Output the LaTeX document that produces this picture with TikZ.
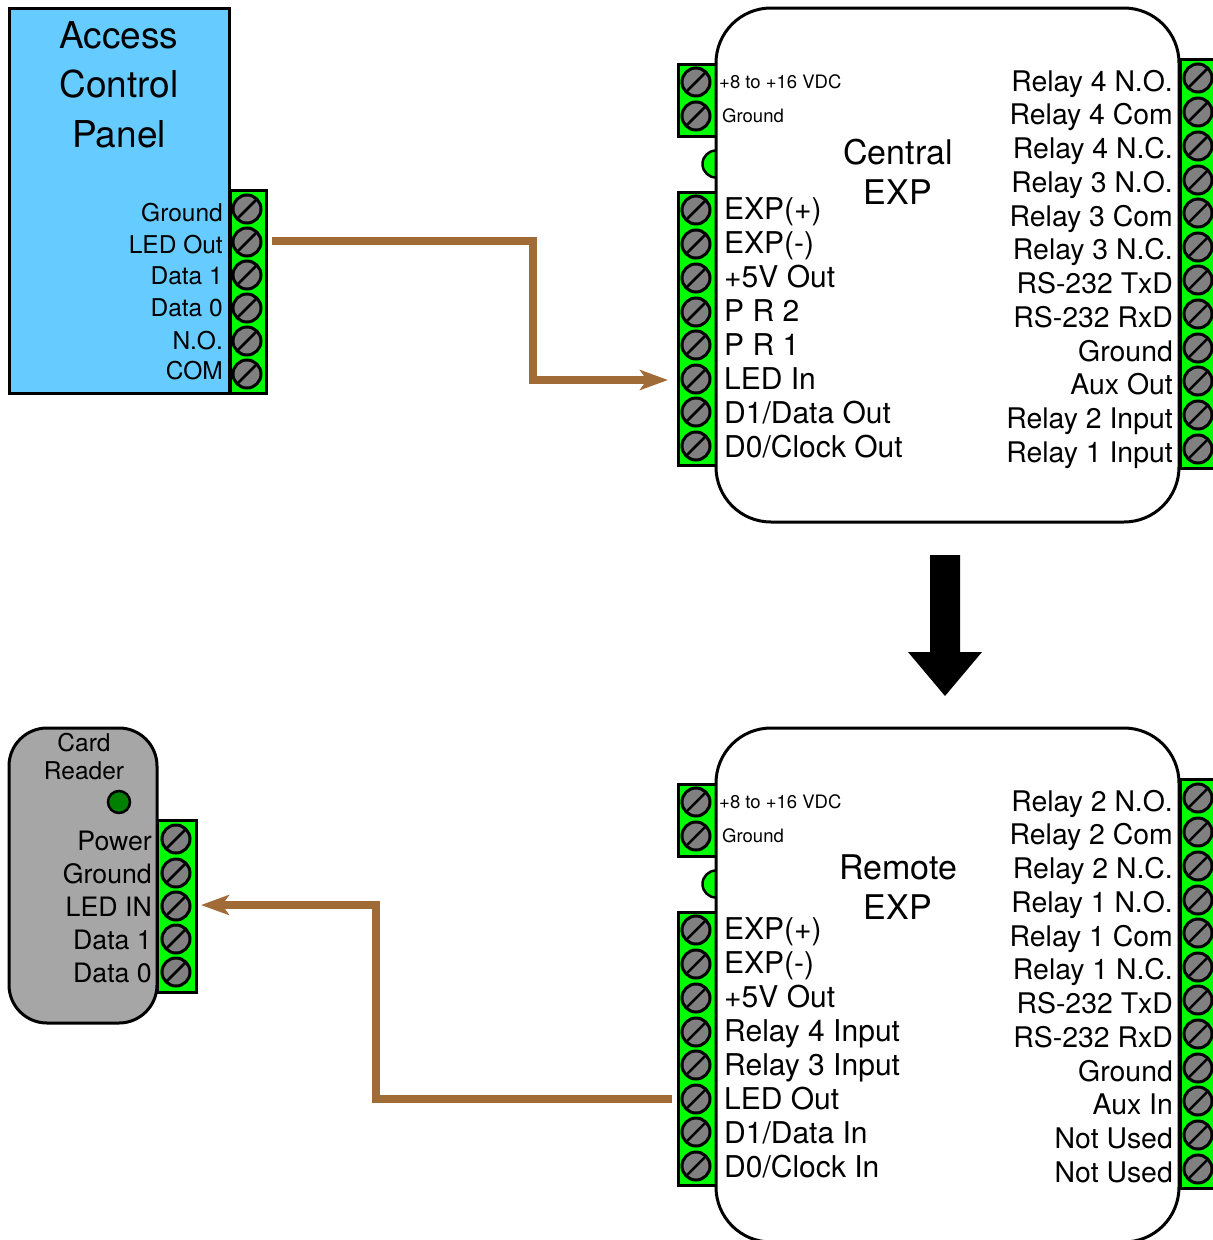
\documentclass[tikz,border=0pt]{standalone}
\usepackage{fontspec}
\setmainfont{TeX Gyre Heros}
\usetikzlibrary{
  arrows.meta,
  chains,
  scopes
}
\definecolor{panelblue}{RGB}{102,204,255}
\definecolor{stripgreen}{RGB}{0,255,0}
\definecolor{readergray}{RGB}{166,166,166}
\definecolor{screwgray}{RGB}{128,128,128}
\definecolor{ledgreen}{RGB}{0,128,0}
\definecolor{wirebrown}{RGB}{160,107,55}

\begin{document}
\begin{tikzpicture}[
      x=1pt,y=-1pt,
      module/.style={
         rectangle,
         outer sep=0pt,
         line width=3pt,
         draw=black,
         fill=white,
         rounded corners=55pt,
      },
      panel/.style={
         rectangle,
         outer sep=0pt,
         line width=3pt,
         draw=black,
         fill=panelblue,
      },
      reader/.style={
         rectangle,
         outer sep=0pt,
         line width=3pt,
         draw=black,
         fill=readergray,
         rounded corners=38pt,
      },
      strip/.style={
         rectangle,
         outer sep=0pt,
         line width=3pt,
         draw=black,
         fill=stripgreen,
      },
      screw/.style={
         circle,
         inner sep=0pt,
         minimum size=28pt,
         line width=3pt,
         draw=black,
         fill=screwgray,
         path picture={\draw[line width=2.5pt]
            (path picture bounding box.south west) -- (path picture bounding box.north east);},
      },
      bump/.style={circle,inner sep=0pt,minimum size=27pt,line width=2.5pt,draw=black,fill=stripgreen},
      led/.style={circle,inner sep=0pt,minimum size=22pt,line width=2.5pt,draw=black,fill=ledgreen},
      lterm/.style={anchor=mid west,yshift=-8pt,inner sep=0pt,font=\fontsize{30}{30}\selectfont},
      rterm/.style={anchor=mid east,yshift=-8pt,inner sep=0pt,font=\fontsize{28.4}{28.4}\selectfont},
      power/.style={anchor=mid west,yshift=-4pt,inner sep=0pt,font=\fontsize{18.5}{18.5}\selectfont},
      pterm/.style={anchor=mid east,yshift=-6pt,inner sep=0pt,font=\fontsize{24.5}{24.5}\selectfont},
      kterm/.style={anchor=mid east,yshift=-7pt,inner sep=0pt,font=\fontsize{26.7}{26.7}\selectfont},
      ktitle/.style={inner sep=0pt,font=\fontsize{24.5}{24.5}\selectfont},
      mtitle/.style={inner sep=0pt,font=\fontsize{34}{34}\selectfont},
      ptitle/.style={inner sep=0pt,font=\fontsize{37}{37}\selectfont},
      point/.style={coordinate},
      wire/.style={line width=8pt,draw=wirebrown,line cap=rect},
      >={Stealth[length=28pt,width=20pt,inset=7pt]},
      tip/.style={->,line cap=butt},every join/.style={wire},
      hv path/.style={to path={-| (\tikztotarget)}},
    ]
    \useasboundingbox (0,0) rectangle (1213,1240);

    % access control panel
    \node (panel) [panel, minimum width=220pt, minimum height=385pt] at (119.5,200.5) {};
    \node (pstrip) [strip, minimum width=36pt, minimum height=203pt] at (248,291.5) {};
    \node (ptitle1) [ptitle] at (119,35.5) {Access};
    \node (ptitle2) [ptitle] at (119,84.5) {Control};
    \node (ptitle3) [ptitle] at (119,134) {Panel};
    \node (p1) [screw] at (247,209) {};
    \node (p2) [screw] at (247,242) {};
    \node (p3) [screw] at (247,275) {};
    \node (p4) [screw] at (247,308) {};
    \node (p5) [screw] at (247,341) {};
    \node (p6) [screw] at (247,374) {};
    \node (tp1) [pterm] at (223,213) {Ground};
    \node (tp2) [pterm] at (223,245) {LED Out};
    \node (tp3) [pterm] at (223,276) {Data 1};
    \node (tp4) [pterm] at (223,308) {Data 0};
    \node (tp5) [pterm] at (223,341) {N.O.};
    \node (tp6) [pterm] at (223,371) {COM};

    % central module
    \node (cbump) [bump] at (716,164) {};
    \node (cpstrip) [strip, minimum width=38pt, minimum height=72pt] at (697,100) {};
    \node (clstrip) [strip, minimum width=38pt, minimum height=273pt] at (697,328.5) {};
    \node (crstrip) [strip, minimum width=36pt, minimum height=409pt] at (1198,263.5) {};
    \node (central) [module, minimum width=463pt, minimum height=514pt] at (947.5,265) {};
    \node (ctitle1) [mtitle] at (898,152.5) {Central};
    \node (ctitle2) [mtitle] at (898,192) {EXP};
    \node (cp1) [screw] at (696,82) {};
    \node (cp2) [screw] at (696,116) {};
    \node (tcp1) [power] at (719,82) {+8 to +16 VDC};
    \node (tcp2) [power] at (722,116) {Ground};
    \node (cl1) [screw] at (696,210) {};
    \node (cl2) [screw] at (696,244) {};
    \node (cl3) [screw] at (696,278) {};
    \node (cl4) [screw] at (696,312) {};
    \node (cl5) [screw] at (696,345) {};
    \node (cl6) [screw] at (696,379) {};
    \node (cl7) [screw] at (696,412) {};
    \node (cl8) [screw] at (696,446) {};
    \node (tcl1) [lterm] at (724,209) {EXP(+)};
    \node (tcl2) [lterm] at (724,243) {EXP(-)};
    \node (tcl3) [lterm] at (724,277) {+5V Out};
    \node (tcl4) [lterm] at (724,311) {P R 2};
    \node (tcl5) [lterm] at (724,345) {P R 1};
    \node (tcl6) [lterm] at (724,379) {LED In};
    \node (tcl7) [lterm] at (724,413) {D1/Data Out};
    \node (tcl8) [lterm] at (724,447) {D0/Clock Out};
    \node (cr1) [screw] at (1198,78) {};
    \node (cr2) [screw] at (1198,112) {};
    \node (cr3) [screw] at (1198,146) {};
    \node (cr4) [screw] at (1198,180) {};
    \node (cr5) [screw] at (1198,213) {};
    \node (cr6) [screw] at (1198,247) {};
    \node (cr7) [screw] at (1198,280) {};
    \node (cr8) [screw] at (1198,314) {};
    \node (cr9) [screw] at (1198,348) {};
    \node (cr10) [screw] at (1198,381) {};
    \node (cr11) [screw] at (1198,415) {};
    \node (cr12) [screw] at (1198,449) {};
    \node (tcr1) [rterm] at (1173,81) {Relay 4 N.O.};
    \node (tcr2) [rterm] at (1173,114) {Relay 4 Com};
    \node (tcr3) [rterm] at (1173,148) {Relay 4 N.C.};
    \node (tcr4) [rterm] at (1173,182) {Relay 3 N.O.};
    \node (tcr5) [rterm] at (1173,216) {Relay 3 Com};
    \node (tcr6) [rterm] at (1173,249) {Relay 3 N.C.};
    \node (tcr7) [rterm] at (1173,283) {RS-232 TxD};
    \node (tcr8) [rterm] at (1173,317) {RS-232 RxD};
    \node (tcr9) [rterm] at (1173,351) {Ground};
    \node (tcr10) [rterm] at (1173,384) {Aux Out};
    \node (tcr11) [rterm] at (1173,418) {Relay 2 Input};
    \node (tcr12) [rterm] at (1173,452) {Relay 1 Input};

    % big arrow between the modules
    \fill[black] (930,555) -- (960,555) -- (960,652) -- (982,652) -- (945,696) -- (908,652) -- (930,652) -- cycle;

    % remote module
    \node (rbump) [bump] at (716,884) {};
    \node (rpstrip) [strip, minimum width=38pt, minimum height=72pt] at (697,820) {};
    \node (rlstrip) [strip, minimum width=38pt, minimum height=273pt] at (697,1048.5) {};
    \node (rrstrip) [strip, minimum width=36pt, minimum height=409pt] at (1198,983.5) {};
    \node (remote) [module, minimum width=463pt, minimum height=514pt] at (947.5,985) {};
    \node (rtitle1) [mtitle] at (898,867.5) {Remote};
    \node (rtitle2) [mtitle] at (898,907) {EXP};
    \node (rp1) [screw] at (696,802) {};
    \node (rp2) [screw] at (696,836) {};
    \node (trp1) [power] at (719,802) {+8 to +16 VDC};
    \node (trp2) [power] at (722,836) {Ground};
    \node (rl1) [screw] at (696,930) {};
    \node (rl2) [screw] at (696,964) {};
    \node (rl3) [screw] at (696,998) {};
    \node (rl4) [screw] at (696,1032) {};
    \node (rl5) [screw] at (696,1065) {};
    \node (rl6) [screw] at (696,1099) {};
    \node (rl7) [screw] at (696,1132) {};
    \node (rl8) [screw] at (696,1166) {};
    \node (trl1) [lterm] at (724,929) {EXP(+)};
    \node (trl2) [lterm] at (724,963) {EXP(-)};
    \node (trl3) [lterm] at (724,997) {+5V Out};
    \node (trl4) [lterm] at (724,1031) {Relay 4 Input};
    \node (trl5) [lterm] at (724,1065) {Relay 3 Input};
    \node (trl6) [lterm] at (724,1099) {LED Out};
    \node (trl7) [lterm] at (724,1133) {D1/Data In};
    \node (trl8) [lterm] at (724,1167) {D0/Clock In};
    \node (rr1) [screw] at (1198,798) {};
    \node (rr2) [screw] at (1198,832) {};
    \node (rr3) [screw] at (1198,866) {};
    \node (rr4) [screw] at (1198,900) {};
    \node (rr5) [screw] at (1198,933) {};
    \node (rr6) [screw] at (1198,967) {};
    \node (rr7) [screw] at (1198,1000) {};
    \node (rr8) [screw] at (1198,1034) {};
    \node (rr9) [screw] at (1198,1068) {};
    \node (rr10) [screw] at (1198,1101) {};
    \node (rr11) [screw] at (1198,1135) {};
    \node (rr12) [screw] at (1198,1169) {};
    \node (trr1) [rterm] at (1173,801) {Relay 2 N.O.};
    \node (trr2) [rterm] at (1173,834) {Relay 2 Com};
    \node (trr3) [rterm] at (1173,868) {Relay 2 N.C.};
    \node (trr4) [rterm] at (1173,902) {Relay 1 N.O.};
    \node (trr5) [rterm] at (1173,936) {Relay 1 Com};
    \node (trr6) [rterm] at (1173,969) {Relay 1 N.C.};
    \node (trr7) [rterm] at (1173,1003) {RS-232 TxD};
    \node (trr8) [rterm] at (1173,1037) {RS-232 RxD};
    \node (trr9) [rterm] at (1173,1071) {Ground};
    \node (trr10) [rterm] at (1173,1104) {Aux In};
    \node (trr11) [rterm] at (1173,1138) {Not Used};
    \node (trr12) [rterm] at (1173,1172) {Not Used};

    % card reader
    \node (kstrip) [strip, minimum width=39pt, minimum height=172pt] at (176.5,906) {};
    \node (reader) [reader, minimum width=148pt, minimum height=295pt] at (83,875.5) {};
    \node (ktitle1) [ktitle] at (84,743) {Card};
    \node (ktitle2) [ktitle] at (84,771) {Reader};
    \node (kled) [led] at (119,802) {};
    \node (k1) [screw] at (176,839) {};
    \node (k2) [screw] at (176,873) {};
    \node (k3) [screw] at (176,906) {};
    \node (k4) [screw] at (176,939) {};
    \node (k5) [screw] at (176,972) {};
    \node (tk1) [kterm] at (152,841) {Power};
    \node (tk2) [kterm] at (152,874) {Ground};
    \node (tk3) [kterm] at (152,907) {LED IN};
    \node (tk4) [kterm] at (152,940) {Data 1};
    \node (tk5) [kterm] at (152,973) {Data 0};

    % wires
    \node (wa1) [point] at (276,241) {};
    \node (wa2) [point] at (533,380) {};
    \node (wa3) [point] at (668,380) {};
    \node (wb1) [point] at (668,1099) {};
    \node (wb2) [point] at (376,905) {};
    \node (wb3) [point] at (201,905) {};
  { [start chain]
       \chainin (wa1);
       \chainin (wa2)    [join=by hv path];
       \chainin (wa3)    [join=by tip];
  }
  { [start chain]
       \chainin (wb1);
       \chainin (wb2)    [join=by hv path];
       \chainin (wb3)    [join=by tip];
  }
\end{tikzpicture}
\end{document}
